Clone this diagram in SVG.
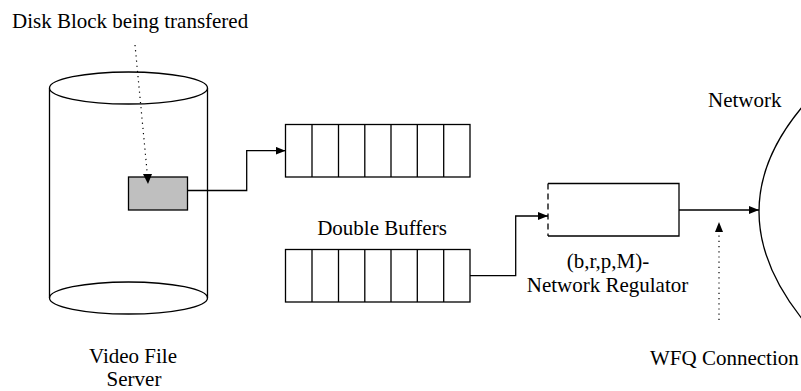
<svg xmlns="http://www.w3.org/2000/svg" width="801" height="391" viewBox="0 0 801 391">
  <style>
    .ln { fill: none; stroke: #000; stroke-width: 1.3; }
    .dot { fill: none; stroke: #000; stroke-width: 1.2; stroke-dasharray: 1.2 4; }
    .dash { fill: none; stroke: #000; stroke-width: 1.3; stroke-dasharray: 6 4; }
    .box { fill: #fff; stroke: #000; stroke-width: 1.3; }
    .lbl { font-family: 'Liberation Serif', 'DejaVu Serif', serif; font-size: 21px; fill: #000; }
  </style>
  <defs>
    <marker id="arrow" viewBox="0 0 10 8" refX="10" refY="4" markerWidth="10" markerHeight="8" markerUnits="userSpaceOnUse" orient="auto">
      <path d="M0,0 L10,4 L0,8 Z" fill="#000"/>
    </marker>
  </defs>

  <rect width="801" height="391" fill="#fff"/>

  <!-- video file server cylinder -->
  <g id="server">
    <path class="ln" d="M49.5,88 L49.5,298 M207.5,88 L207.5,298"/>
    <ellipse class="box" cx="128.5" cy="88" rx="79" ry="16"/>
    <path class="ln" d="M49.5,298 A79,16 0 0 0 207.5,298 A79,16 0 0 0 49.5,298"/>
    <text class="lbl" x="133" y="362.5" text-anchor="middle">Video File</text>
    <text class="lbl" x="134" y="386" text-anchor="middle">Server</text>
  </g>

  <!-- disk block being read out -->
  <g id="disk-block">
    <rect x="128.5" y="177" width="59" height="33" fill="#bfbfbf" stroke="#000" stroke-width="1.3"/>
    <text class="lbl" x="12" y="28">Disk Block being transfered</text>
  </g>

  <!-- upper buffer -->
  <g id="buffer-top">
    <rect class="box" x="285.5" y="124.5" width="184.5" height="52.5"/>
    <path class="ln" d="M312,124.5V177 M338.5,124.5V177 M364.8,124.5V177 M391,124.5V177 M417.3,124.5V177 M443.7,124.5V177"/>
  </g>

  <!-- lower buffer -->
  <g id="buffer-bottom">
    <rect class="box" x="285.5" y="249.5" width="184.5" height="52.5"/>
    <path class="ln" d="M312,249.5V302 M338.5,249.5V302 M364.8,249.5V302 M391,249.5V302 M417.3,249.5V302 M443.7,249.5V302"/>
    <text class="lbl" x="382" y="235" text-anchor="middle">Double Buffers</text>
  </g>

  <!-- (b,r,p,M) regulator -->
  <g id="regulator">
    <path class="ln" d="M548,183.5 H679 V236 H548"/>
    <path class="dash" d="M548,183.5 V236"/>
    <text class="lbl" x="608" y="268" text-anchor="middle">(b,r,p,M)-</text>
    <text class="lbl" x="607.5" y="292" text-anchor="middle">Network Regulator</text>
  </g>

  <!-- network cloud edge -->
  <g id="network">
    <path class="ln" d="M803,106 Q715,210 803,320"/>
    <text class="lbl" x="708" y="107">Network</text>
  </g>

  <!-- WFQ connection label -->
  <g id="wfq">
    <text class="lbl" x="650" y="365">WFQ Connection</text>
  </g>

  <!-- connectors -->
  <g id="connectors">
    <path class="dot" d="M135,45 L147.5,176" />
    <path d="M143,174 L152,174 L148,184 Z" fill="#000"/>
    <path class="ln" d="M187.5,190.5 H246.7 V150.7 H285.5" marker-end="url(#arrow)"/>
    <path class="ln" d="M470,275.7 H515.7 V216 H548" marker-end="url(#arrow)"/>
    <path class="ln" d="M679,210 H759" marker-end="url(#arrow)"/>
    <path class="dot" d="M719,320 L719,232" />
    <path d="M715,232 L723,232 L719,222 Z" fill="#000"/>
  </g>
</svg>
